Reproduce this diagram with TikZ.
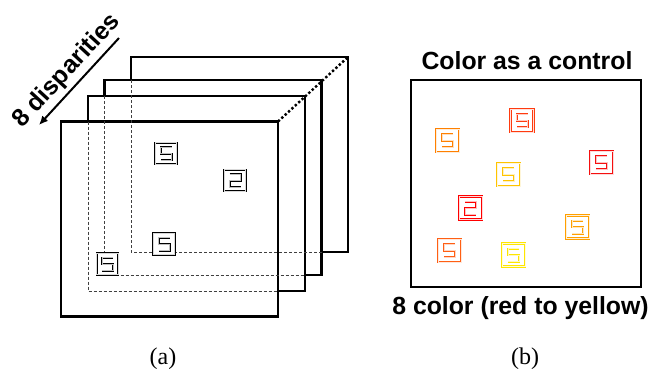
\documentclass[tikz,border=0pt]{standalone}
\usepackage{fontspec}
\setmainfont{Liberation Serif}
\setsansfont{Liberation Sans}
\usetikzlibrary{arrows.meta}
\definecolor{cA}{RGB}{255,0,0}
\definecolor{cB}{RGB}{245,15,15}
\definecolor{cC}{RGB}{255,59,15}
\definecolor{cD}{RGB}{255,95,20}
\definecolor{cE}{RGB}{255,128,0}
\definecolor{cF}{RGB}{255,160,0}
\definecolor{cG}{RGB}{255,196,0}
\definecolor{cH}{RGB}{255,230,0}
\newcommand\fivesym[4][21.5]{%
  \node[symbox=#4, minimum size=#1pt] (#2) at (#3) {};
  \draw[digit=#4] ([shift={(5.5,-6.5)}]#2.center) -- ++(-11,0) -- ++(0,6.5) -- ++(11,0) -- ++(0,6.5) -- ++(-11,0);}
\newcommand\twosym[4][21.5]{%
  \node[symbox=#4, minimum size=#1pt] (#2) at (#3) {};
  \draw[digit=#4] ([shift={(-5.5,-6.5)}]#2.center) -- ++(11,0) -- ++(0,6.5) -- ++(-11,0) -- ++(0,6.5) -- ++(11,0);}
\begin{document}
\begin{tikzpicture}[x=1pt,y=-1pt,
  frame/.style={draw, line width=2.3pt, fill=white, minimum width=217pt, minimum height=195pt, inner sep=0pt, outer sep=0pt, anchor=north west},
  hid/.style={line width=0.9pt, dash pattern=on 3pt off 2pt, black!75},
  symbox/.style={draw=#1, line width=2.2pt, fill=white, inner sep=0pt, outer sep=0pt,
    postaction={draw=white, line width=0.6pt, draw opacity=0.85}},
  digit/.style={draw=#1, line width=2pt, line join=miter, line cap=butt,
    postaction={draw=white, line width=0.55pt, draw opacity=0.75}},
  lbl/.style={font=\sffamily\bfseries\fontsize{24.8}{28}\selectfont, inner sep=0pt},
  capt/.style={font=\fontsize{24}{28}\selectfont, inner sep=0pt, anchor=base}
]
\useasboundingbox (0,0) rectangle (662,368);
% frames, back to front
\node[frame] (f4) at (131,57) {};
\node[frame] (f3) at (104.5,80) {};
\node[frame] (f2) at (88,96) {};
\node[frame] (f1) at (61,121.5) {};
% hidden edges
\draw[hid] (f2.west |- f1.north) -- (f2.south west) -- (f1.east |- f2.south);
\draw[hid] (f3.west |- f2.north) -- (f3.south west) -- (f2.east |- f3.south);
\draw[hid] (f4.west |- f3.north) -- (f4.south west) -- (f3.east |- f4.south);
% dotted diagonal
\draw[line width=2.4pt, dash pattern=on 2.4pt off 2.2pt] (f1.north east) -- (f4.north east);
% symbols on the front frame
\fivesym{a1}{166,153.5}{black}
\twosym{a2}{235,180.5}{black}
\fivesym{a3}{164,244}{black}
\fivesym{a4}{107.5,264}{black}
% arrow and label
\coordinate (arrS) at (119,38);
\coordinate (arrE) at (39,125);
\draw[line width=2pt, -{Latex[length=9pt,width=8pt]}] (arrS) -- (arrE);
\node[lbl, rotate=47.4] (disp) at (67,71) {8 disparities};
% right panel
\node[draw, line width=2.3pt, minimum width=230pt, minimum height=207pt, inner sep=0pt, outer sep=0pt, anchor=north west] (bx) at (411,80) {};
\node[lbl, anchor=base] (ttl) at (527,69.3) {Color as a control};
\node[lbl, anchor=base] (bot) at (520.5,314) {8 color (red to yellow)};
\fivesym[23]{b1}{447.5,140.5}{cE}
\fivesym[23]{b2}{522,120.5}{cC}
\fivesym[23]{b3}{601.5,162.5}{cB}
\fivesym[23]{b4}{508.5,174.5}{cG}
\twosym[23]{b5}{470.5,208}{cA}
\fivesym[23]{b6}{577.5,227}{cF}
\fivesym[23]{b7}{449.5,250.5}{cD}
\fivesym[23]{b8}{513.5,255}{cH}
% captions
\node[capt] (la) at (163,364) {(a)};
\node[capt] (lb) at (525,364) {(b)};
\end{tikzpicture}
\end{document}
